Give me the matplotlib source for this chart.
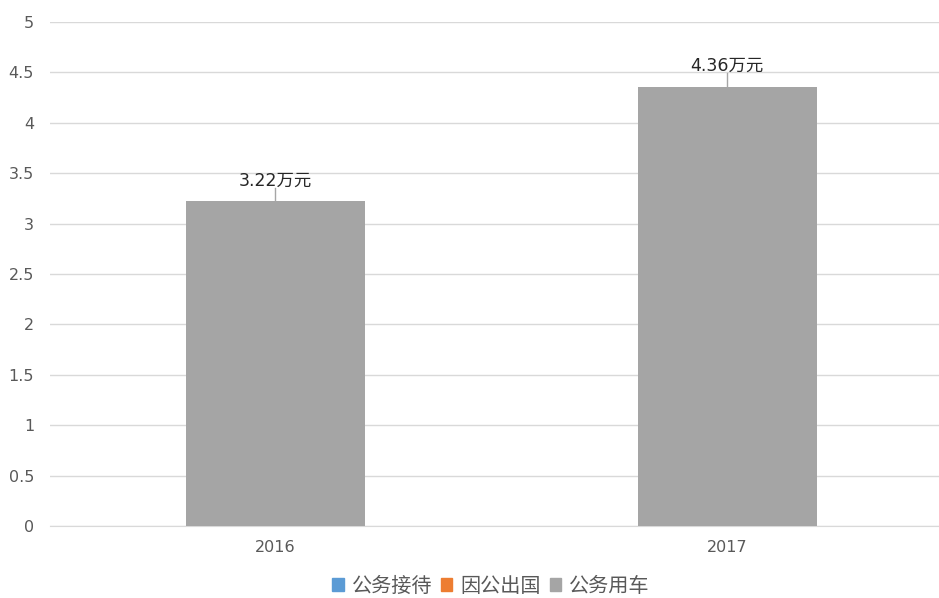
import matplotlib
matplotlib.use('Agg')
import matplotlib.pyplot as plt
from matplotlib.patches import Patch

plt.rcParams['font.family'] = ['DejaVu Sans', 'Noto Sans CJK SC']

years = ['2016', '2017']
series_names = ['公务接待', '因公出国', '公务用车']
series_colors = ['#5B9BD5', '#ED7D31', '#A5A5A5']
reception = [0, 0]
abroad = [0, 0]
car = [3.22, 4.36]
yticks = [0, 0.5, 1, 1.5, 2, 2.5, 3, 3.5, 4, 4.5, 5]

fig = plt.figure(figsize=(9.39, 5.98), dpi=100)
ax = fig.add_axes([50/939, 1-526/598, 889/939, (526-22)/598])

x = list(range(len(years)))
w = 0.396
ax.bar(x, reception, width=w, color=series_colors[0])
ax.bar(x, abroad, width=w, color=series_colors[1])
bars = ax.bar(x, car, width=w, color=series_colors[2], zorder=3)

for xi, v in zip(x, car):
    ax.plot([xi, xi], [v, v + 0.13], color='#A6A6A6', lw=1, zorder=3)
    ax.text(xi, v + 0.12, f'{v:.2f}万元', ha='center', va='bottom',
            fontsize=12.5, color='#262626')

ax.set_ylim(0, 5)
ax.set_xlim(-0.498, 1.469)
ax.set_yticks(yticks)
ax.set_yticklabels([f'{t:g}' for t in yticks])
ax.set_xticks(x)
ax.set_xticklabels(years)
ax.yaxis.grid(True, color='#D9D9D9', lw=1)
ax.set_axisbelow(True)
for s in ['top', 'right', 'left']:
    ax.spines[s].set_visible(False)
ax.spines['bottom'].set_color('#D9D9D9')
ax.tick_params(axis='both', length=0, labelsize=11.5, colors='#595959')
ax.tick_params(axis='y', pad=11.5)
ax.tick_params(axis='x', pad=10)

handles = [Patch(color=c, label=n) for c, n in zip(series_colors, series_names)]
fig.legend(handles=handles, loc='center', bbox_to_anchor=(491/939, 1-586/598),
           ncol=3, frameon=False, fontsize=14.5, handlelength=0.55, handleheight=0.55,
           handletextpad=0.4, columnspacing=0.45, labelcolor='#595959')

fig.savefig('out.png', dpi=100)
